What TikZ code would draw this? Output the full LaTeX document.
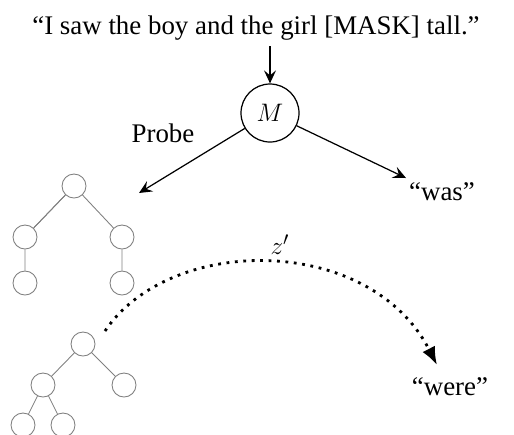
\documentclass[tikz,border=0pt]{standalone}
\usepackage{amsmath}
\usepackage{fontspec}
\setmainfont{Liberation Serif}
\usepackage{tikz}
\usetikzlibrary{arrows.meta}
\tikzset{tnode/.style = {circle, draw=gray, line width=0.5pt, minimum size=0.48cm, inner sep=0pt},
         tedge/.style = {draw=gray, line width=0.5pt},
         conn/.style = {line width=0.7pt, -{Stealth[length=2.6mm, width=2.4mm, inset=1mm]}}}

\begin{document}
\begin{tikzpicture}[font=\fontsize{15.3}{18}\selectfont]
            \useasboundingbox (0,0) rectangle (10.28,-8.68);

            \node (sent) at (5.12, -0.56) {``I saw the boy and the girl [MASK] tall.''};
            \coordinate (in) at (5.4, -0.92);
            \node [circle, draw=black, line width=0.7pt, minimum size=1.16cm, inner sep=0pt] (M) at (5.4, -2.26) {$M$};
            \node (probe) at (3.26, -2.66) {Probe};
            \node (was) at (8.84, -3.84) {``was''};
            \node (were) at (9.0, -7.74) {``were''};

            \node [tnode] (a1) at (1.48, -3.72) {};
            \node [tnode] (a2) at (0.5, -4.74) {};
            \node [tnode] (a3) at (2.44, -4.74) {};
            \node [tnode] (a4) at (0.5, -5.66) {};
            \node [tnode] (a5) at (2.44, -5.66) {};

            \node [tnode] (b1) at (1.66, -6.88) {};
            \node [tnode] (b2) at (0.86, -7.7) {};
            \node [tnode] (b3) at (2.48, -7.7) {};
            \node [tnode] (b4) at (0.46, -8.5) {};
            \node [tnode] (b5) at (1.26, -8.5) {};

            \draw [tedge] (a2) -- (a1) -- (a3) -- (a5);
            \draw [tedge] (a1) -- (a2) -- (a4);
            \draw [tedge] (b3) -- (b1) -- (b2) -- (b4);
            \draw [tedge] (b2) -- (b5);

            \coordinate (pend) at (2.78, -3.86);
            \coordinate (wend) at (8.12, -3.56);
            \coordinate (zs) at (2.1, -6.62);
            \coordinate (ze) at (8.74, -7.3);

            \draw [conn] (in) -- (M);
            \draw [conn] (M) -- (pend);
            \draw [conn] (M) -- (wend);
            \draw [line width=1.6pt, dash pattern=on 1.6pt off 3.2pt, -{Latex[length=0.36cm, width=0.28cm]}]
                (zs) .. controls (3.4, -4.68) and (7.4, -4.68) .. (ze);
            \node (zlab) at (5.6, -4.9) {$z'$};
        \end{tikzpicture}
\end{document}
